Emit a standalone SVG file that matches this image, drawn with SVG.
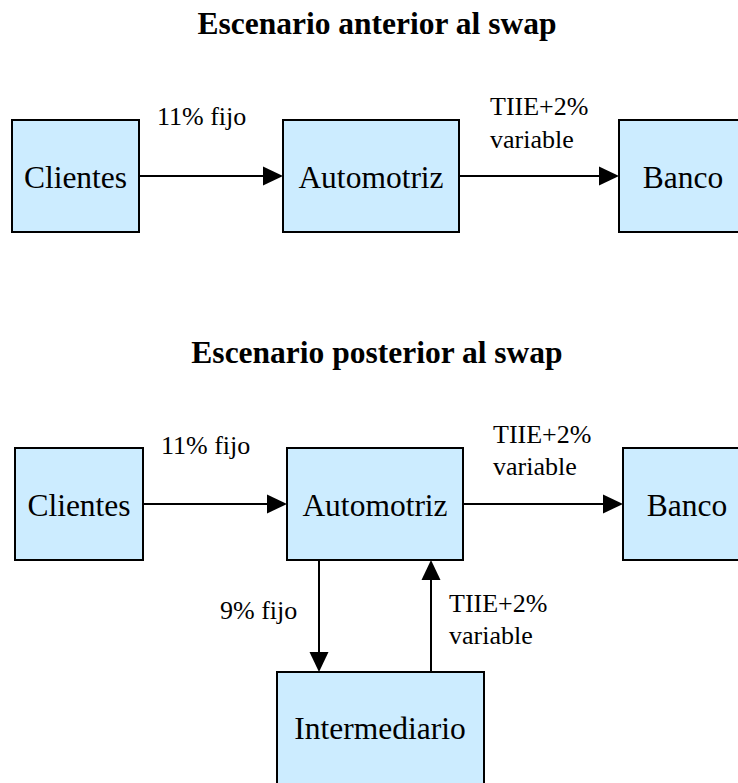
<svg xmlns="http://www.w3.org/2000/svg" width="738" height="783" viewBox="0 0 738 783">
<defs>
<style>
.box{fill:#CCECFF;stroke:#000;stroke-width:2}
.nt{font-family:"Liberation Serif","Times New Roman",serif;font-size:31.5px;fill:#000;text-anchor:middle}
.lb{font-family:"Liberation Serif","Times New Roman",serif;font-size:26px;fill:#000}
.tt{font-family:"Liberation Serif","Times New Roman",serif;font-size:31.5px;font-weight:bold;fill:#000;text-anchor:middle}
.ln{stroke:#000;stroke-width:2;fill:none}
.hd{fill:#000;stroke:none}
</style>
</defs>
<rect width="738" height="783" fill="#fff"/>
<text class="tt" x="377" y="34">Escenario anterior al swap</text>
<text class="tt" x="377" y="363">Escenario posterior al swap</text>

<g id="top-clientes"><rect class="box" x="12" y="120" width="127" height="112"/><text class="nt" x="75.5" y="188">Clientes</text></g>
<g id="top-automotriz"><rect class="box" x="283" y="120" width="176" height="112"/><text class="nt" x="371" y="188">Automotriz</text></g>
<g id="top-banco"><rect class="box" x="619" y="120" width="128" height="112"/><text class="nt" x="683" y="188">Banco</text></g>

<g id="bot-clientes"><rect class="box" x="15" y="448" width="128" height="112"/><text class="nt" x="79" y="516">Clientes</text></g>
<g id="bot-automotriz"><rect class="box" x="287" y="448" width="176" height="112"/><text class="nt" x="375" y="516">Automotriz</text></g>
<g id="bot-banco"><rect class="box" x="623" y="448" width="128" height="112"/><text class="nt" x="687" y="516">Banco</text></g>
<g id="bot-intermediario"><rect class="box" x="277" y="672" width="207" height="120"/><text class="nt" x="380" y="739">Intermediario</text></g>

<g id="connectors">
<line class="ln" x1="139" y1="176" x2="265" y2="176"/><polygon class="hd" points="283,176 263,166.5 263,185.5"/>
<line class="ln" x1="459" y1="176" x2="601" y2="176"/><polygon class="hd" points="619,176 599,166.5 599,185.5"/>
<line class="ln" x1="143" y1="504" x2="269" y2="504"/><polygon class="hd" points="287,504 267,494.5 267,513.5"/>
<line class="ln" x1="463" y1="504" x2="605" y2="504"/><polygon class="hd" points="623,504 603,494.5 603,513.5"/>
<line class="ln" x1="319" y1="560" x2="319" y2="654"/><polygon class="hd" points="319,672 309.5,652 328.5,652"/>
<line class="ln" x1="431" y1="672" x2="431" y2="578"/><polygon class="hd" points="431,560 421.5,580 440.5,580"/>
<text class="lb" x="157" y="125">11% fijo</text>
<text class="lb" x="490" y="115">TIIE+2%</text>
<text class="lb" x="490" y="148">variable</text>
<text class="lb" x="161" y="454">11% fijo</text>
<text class="lb" x="493" y="443">TIIE+2%</text>
<text class="lb" x="493" y="475">variable</text>
<text class="lb" x="220" y="619">9% fijo</text>
<text class="lb" x="449" y="612">TIIE+2%</text>
<text class="lb" x="449" y="644">variable</text>
</g>
</svg>
